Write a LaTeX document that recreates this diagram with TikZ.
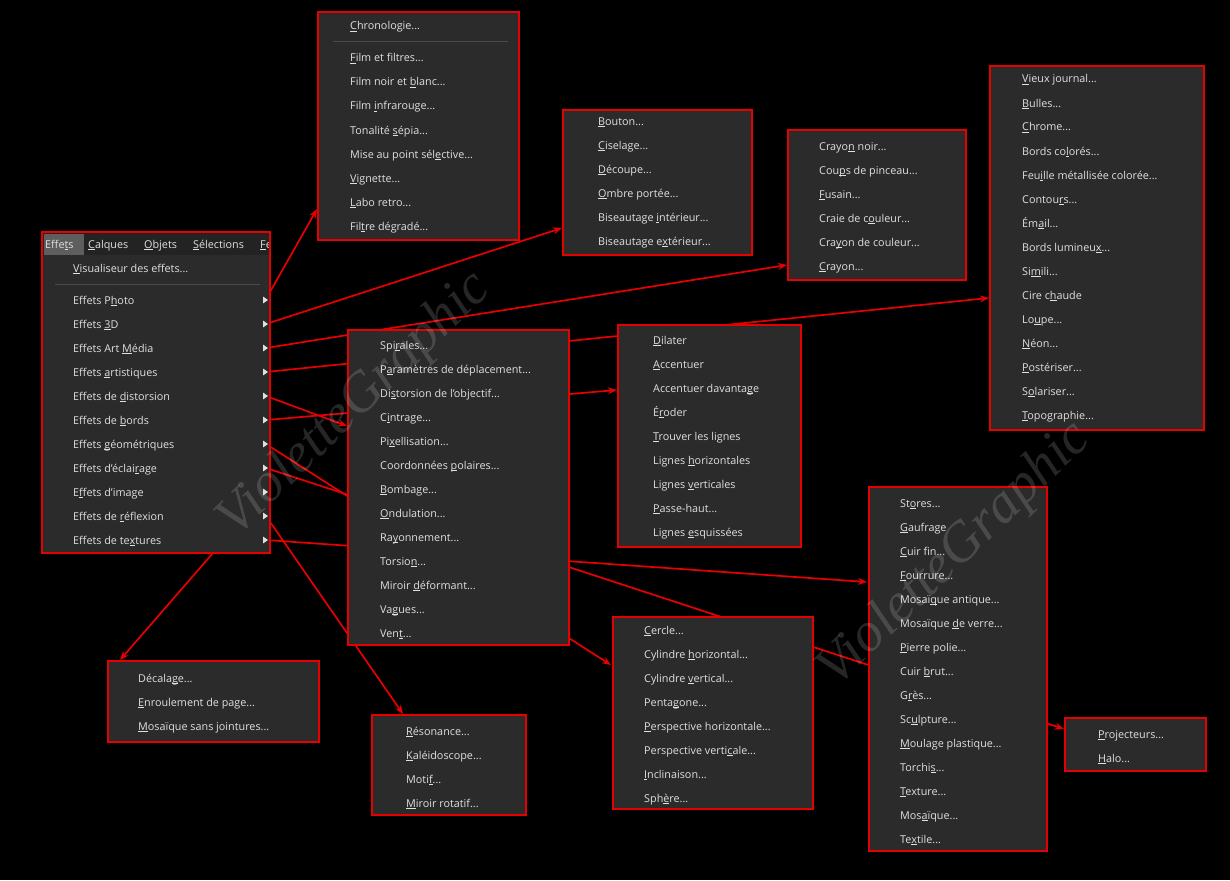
\documentclass[tikz,border=0pt]{standalone}
\usepackage{fontspec}
\setmainfont{Open Sans}
\newfontfamily\wmfont{Liberation Serif}
\usetikzlibrary{arrows.meta}
\pgfdeclarelayer{bg}
\pgfdeclarelayer{bottom}
\pgfsetlayers{bottom,bg,main}
\definecolor{boxbg}{HTML}{2B2B2B}
\definecolor{barbg}{HTML}{232323}
\definecolor{hilite}{HTML}{5E5E5E}
\definecolor{txt}{HTML}{E0E0E0}
\definecolor{lred}{HTML}{E60000}
\definecolor{sepcol}{HTML}{4A4A4A}
\newcommand\acc[1]{\setbox0\hbox{#1}\rlap{\rule[-1.8pt]{\wd0}{0.7pt}}#1}
\newcommand\dd{...}
\begin{document}
\begin{tikzpicture}[x=1pt,y=-1pt,
  box/.style={draw=lred, line width=2pt, fill=boxbg, anchor=north west, inner sep=0pt, outer sep=0pt},
  item/.style={anchor=base west, inner sep=0pt, text=txt, font=\fontsize{10.8}{12}\selectfont},
  link/.style={draw=lred, line width=1.7pt, -{Stealth[length=9pt,width=7pt]}},
  sepline/.style={draw=sepcol, line width=0.8pt},
  subtri/.style={fill=txt},
  wm/.style={text=white, opacity=0.15, font=\wmfont\itshape\fontsize{56}{60}\selectfont, rotate=44}]
\begin{pgfonlayer}{bottom}
\fill[black] (0,0) rectangle (1230,880);
\end{pgfonlayer}
\useasboundingbox (0,0) rectangle (1230,880);

% ---------- main menu ----------
\node[box, minimum width=228pt, minimum height=321pt] (menu) at (42,232) {};
\fill[barbg] (43,233) rectangle (269,255);
\fill[hilite] (44,234) rectangle (84,255);
\node[item] (bar1) at (45,248) {Effe\acc{t}s};
\node[item] (bar2) at (88,248) {\acc{C}alques};
\node[item] (bar3) at (144,248) {\acc{O}bjets};
\node[item] (bar4) at (193,248) {\acc{S}élections};
\begin{scope}
\clip (255,234) rectangle (268,255);
\node[item] (bar5) at (260,248) {\acc{F}enêtre};
\end{scope}
\node[item] (vis) at (73,272) {\acc{V}isualiseur des effets\dd};
\draw[sepline] (55,284) -- (260,284);
\foreach \t [count=\i] in {Effets P\acc{h}oto, Effets \acc{3}D, Effets Art \acc{M}édia,
  Effets \acc{a}rtistiques, Effets de \acc{d}istorsion, Effets de \acc{b}ords,
  Effets \acc{g}éométriques, Effets d'éclai\acc{r}age, E\acc{f}fets d'image,
  Effets de \acc{r}éflexion, Effets de te\acc{x}tures}{
  \node[item] (m\i) at (73,{276+24*\i+4}) {\t};
  \coordinate (s\i) at (266,{276+24*\i});
  \fill[subtri] (263,{276+24*\i-3.5}) -- (268,{276+24*\i}) -- (263,{276+24*\i+3.5}) -- cycle;
}
\coordinate (s1) at (270,292);

% ---------- Chronologie ----------
\node[box, minimum width=201pt, minimum height=228pt] (chrono) at (318,12) {};
\node[item] (chr0) at (350,30) {\acc{C}hronologie\dd};
\draw[sepline] (333,41) -- (508,41);
\foreach \t [count=\i from 0] in {\acc{F}ilm et filtres\dd, Film noir et \acc{b}lanc\dd,
  Film \acc{i}nfrarouge\dd, Tonalité \acc{s}épia\dd, Mise au point sél\acc{e}ctive\dd,
  \acc{V}ignette\dd, \acc{L}abo retro\dd, Fil\acc{t}re dégradé\dd}{
  \node[item] (chr\i x) at (350,{58+24*\i+4}) {\t};
}

% ---------- Bouton ----------
\node[box, minimum width=189pt, minimum height=145pt] (bouton) at (563,110) {};
\foreach \t [count=\i from 0] in {\acc{B}outon\dd, \acc{C}iselage\dd, \acc{D}écoupe\dd,
  \acc{O}mbre portée\dd, Biseautage \acc{i}ntérieur\dd, Biseautage e\acc{x}térieur\dd}{
  \node[item] (bt\i) at (598,{121+24*\i+4}) {\t};
}

% ---------- Crayon ----------
\node[box, minimum width=178pt, minimum height=150pt] (crayon) at (788,130) {};
\foreach \t [count=\i from 0] in {Crayo\acc{n} noir\dd, Cou\acc{p}s de pinceau\dd,
  \acc{F}usain\dd, Craie de c\acc{o}uleur\dd, Cra\acc{y}on de couleur\dd, \acc{C}rayon\dd}{
  \node[item] (cr\i) at (819,{146+24*\i+4}) {\t};
}

% ---------- Vieux journal ----------
\node[box, minimum width=214pt, minimum height=364pt] (vieux) at (990,66) {};
\foreach \t [count=\i from 0] in {\acc{V}ieux journal\dd, \acc{B}ulles\dd, \acc{C}hrome\dd,
  Bords co\acc{l}orés\dd, Feu\acc{i}lle métallisée colorée\dd, Contou\acc{r}s\dd,
  Ém\acc{a}il\dd, Bords lumineu\acc{x}\dd, Si\acc{m}ili\dd, Cire c\acc{h}aude,
  Lo\acc{u}pe\dd, \acc{N}éon\dd, \acc{P}ostériser\dd, S\acc{o}lariser\dd, \acc{T}opographie\dd}{
  \node[item] (vj\i) at (1022,{79+24*\i+4}) {\t};
}

% ---------- Spirales ----------
\node[box, minimum width=221pt, minimum height=315pt] (spir) at (348,330) {};
\foreach \t [count=\i from 0] in {Spi\acc{r}ales\dd, P\acc{a}ramètres de déplacement\dd,
  Di\acc{s}torsion de l'objectif\dd, C\acc{i}ntrage\dd, Pi\acc{x}ellisation\dd,
  Coordonnées \acc{p}olaires\dd, \acc{B}ombage\dd, \acc{O}ndulation\dd, Ra\acc{y}onnement\dd,
  Torsio\acc{n}\dd, Miroir \acc{d}éformant\dd, Va\acc{g}ues\dd, Ven\acc{t}\dd}{
  \node[item] (sp\i) at (380,{345+24*\i+4}) {\t};
}

% ---------- Dilater ----------
\node[box, minimum width=183pt, minimum height=222pt] (dil) at (618,325) {};
\foreach \t [count=\i from 0] in {\acc{D}ilater, \acc{A}ccentuer, Accentuer davanta\acc{g}e,
  É\acc{r}oder, \acc{T}rouver les lignes, Lignes \acc{h}orizontales, Lignes \acc{v}erticales,
  \acc{P}asse-haut\dd, Lignes \acc{e}squissées}{
  \node[item] (dl\i) at (653,{340+24*\i+4}) {\t};
}

% ---------- Stores ----------
\node[box, minimum width=178pt, minimum height=364pt] (stores) at (869,487) {};
\foreach \t [count=\i from 0] in {St\acc{o}res\dd, \acc{G}aufrage, \acc{C}uir fin\dd,
  \acc{F}ourrure\dd, Mosaï\acc{q}ue antique\dd, Mosaïque \acc{d}e verre\dd, \acc{P}ierre polie\dd,
  Cuir \acc{b}rut\dd, G\acc{r}ès\dd, Sc\acc{u}lpture\dd, \acc{M}oulage plastique\dd,
  Torchi\acc{s}\dd, \acc{T}exture\dd, Mos\acc{a}ïque\dd, Te\acc{x}tile\dd}{
  \node[item] (st\i) at (900,{503+24*\i+4}) {\t};
}

% ---------- Cercle ----------
\node[box, minimum width=200pt, minimum height=192pt] (cercle) at (613,617) {};
\foreach \t [count=\i from 0] in {\acc{C}ercle\dd, Cylindre \acc{h}orizontal\dd,
  Cylindre \acc{v}ertical\dd, Penta\acc{g}one\dd, \acc{P}erspective horizontale\dd,
  Perspective verti\acc{c}ale\dd, \acc{I}nclinaison\dd, Sph\acc{è}re\dd}{
  \node[item] (ce\i) at (644,{630+24*\i+4}) {\t};
}

% ---------- Décalage ----------
\node[box, minimum width=211pt, minimum height=81pt] (deca) at (108,661) {};
\foreach \t [count=\i from 0] in {Décala\acc{g}e\dd, \acc{E}nroulement de page\dd,
  \acc{M}osaïque sans jointures\dd}{
  \node[item] (dc\i) at (138,{678+24*\i+4}) {\t};
}

% ---------- Résonance ----------
\node[box, minimum width=154pt, minimum height=100pt] (reso) at (372,715) {};
\foreach \t [count=\i from 0] in {\acc{R}ésonance\dd, \acc{K}aléidoscope\dd, Moti\acc{f}\dd,
  \acc{M}iroir rotatif\dd}{
  \node[item] (rs\i) at (406,{731+24*\i+4}) {\t};
}

% ---------- Projecteurs ----------
\node[box, minimum width=141pt, minimum height=53pt] (proj) at (1065,718) {};
\node[item] (pj0) at (1098,738) {\acc{P}rojecteurs\dd};
\node[item] (pj1) at (1098,762) {\acc{H}alo\dd};

% ---------- connector ends ----------
\coordinate (t1) at (317,209);
\coordinate (t2) at (562,228);
\coordinate (t3) at (787,265);
\coordinate (t4) at (989,298);
\coordinate (t5) at (347,426);
\coordinate (t6) at (617,390);
\coordinate (t7) at (611,665);
\coordinate (t8) at (1064,729);
\coordinate (t9) at (120,660);
\coordinate (t10) at (403,714);
\coordinate (t11) at (867,582);

\begin{pgfonlayer}{bg}
\draw[link] (s1) -- (t1);
\draw[link] (s2) -- (t2);
\draw[link] (s3) -- (t3);
\draw[link] (s4) -- (t4);
\draw[link] (s5) -- (t5);
\draw[link] (s6) -- (t6);
\draw[link] (s7) -- (t7);
\draw[link] (s8) -- (t8);
\draw[link] (s9) -- (t9);
\draw[link] (s10) -- (t10);
\draw[link] (s11) -- (t11);
\end{pgfonlayer}

% ---------- watermarks ----------
\node[wm] (wm1) at (355,405) {VioletteGraphic};
\node[wm] (wm2) at (955,555) {VioletteGraphic};
\end{tikzpicture}
\end{document}
